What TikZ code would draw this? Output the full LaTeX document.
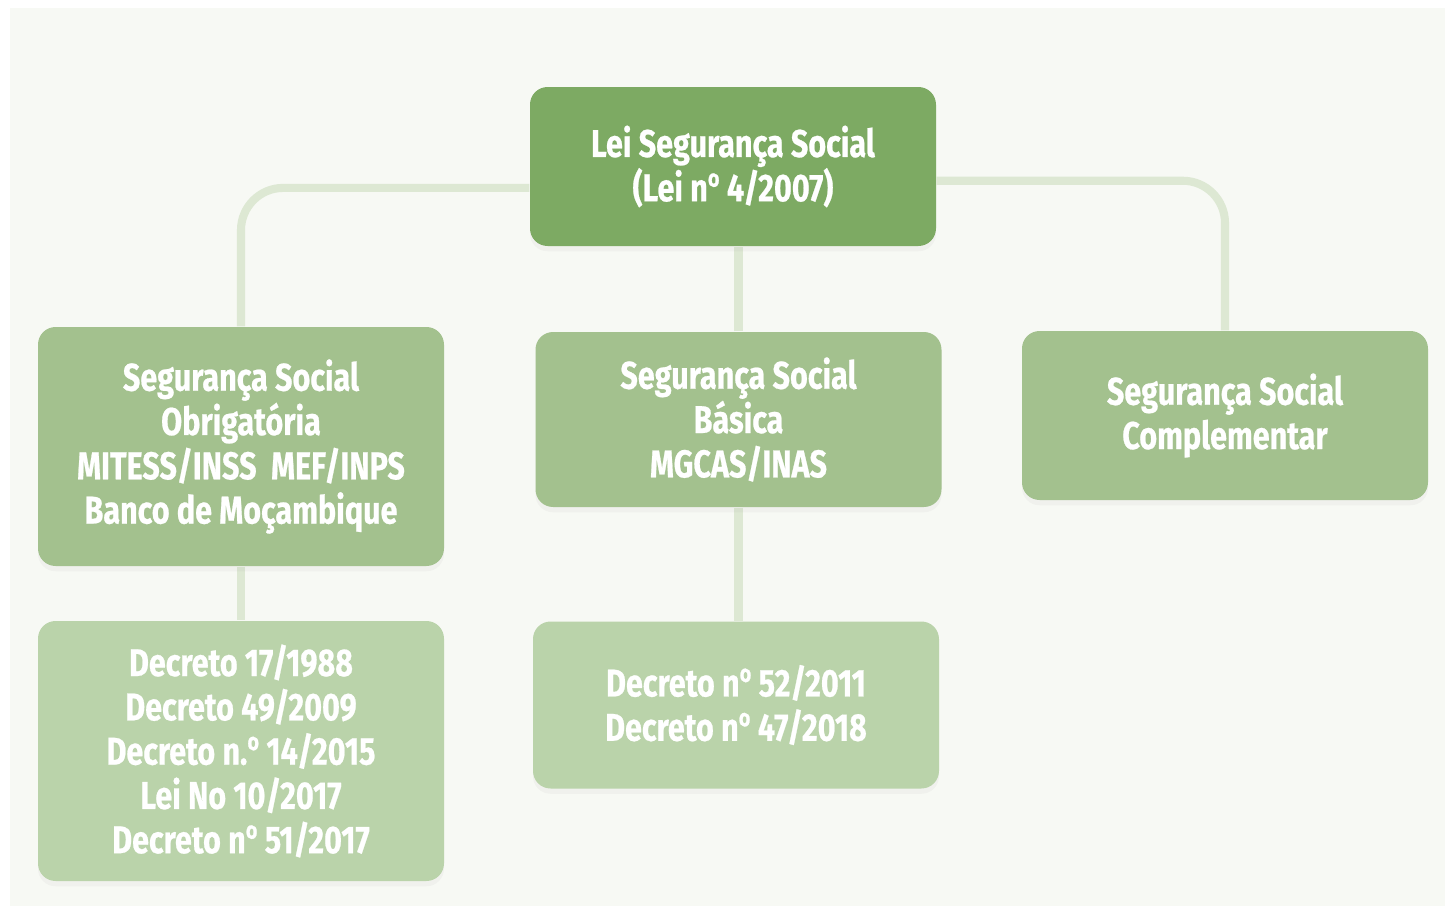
\documentclass[tikz,border=0pt]{standalone}
\usepackage{fontspec}
\setmainfont{Fira Sans}[FakeStretch=0.79, BoldFeatures={FakeBold=0.6}]
\newfontfamily\ordfont{Open Sans}[FakeStretch=0.79, BoldFeatures={FakeBold=0.6}]
\usetikzlibrary{positioning, shadows, backgrounds}

\definecolor{leigreen}{HTML}{7DAA63}
\definecolor{midgreen}{HTML}{A3C18E}
\definecolor{lowgreen}{HTML}{BAD3AA}
\definecolor{linkgreen}{HTML}{DDE8D3}
\definecolor{paper}{HTML}{F7F9F4}

\newcommand{\nordm}{n{\ordfont º}}
\newcommand{\boxfont}{\fontsize{11}{12.6}\selectfont\bfseries\lineskiplimit=-10pt\relax}

\tikzset{
  box/.style={rectangle, rounded corners=5pt, align=center, text=white,
              font=\boxfont,
              minimum width=4.06cm, inner sep=0pt,
              drop shadow={opacity=0.06, shadow xshift=0pt, shadow yshift=-1.5pt}},
  lei/.style={box, fill=leigreen},
  regime/.style={box, fill=midgreen},
  decreto/.style={box, fill=lowgreen},
  link/.style={draw=linkgreen, line width=2.3pt, rounded corners=12pt}
}

\begin{document}
\begin{tikzpicture}

   \useasboundingbox (0,0) rectangle (14.45,-9.06);

   % Nodes
      \node[lei,minimum height=1.59cm]     (lss)  at (7.33,-1.665)  {Lei Segurança Social\\(Lei \nordm{} 4/2007)};
      \node[regime,minimum height=2.39cm]  (obr)  at (2.41,-4.465)  {Segurança Social\\Obrigatória\\MITESS/INSS\ \ MEF/INPS\\Banco de Moçambique};
      \node[regime,minimum height=1.75cm]  (bas)  at (7.385,-4.195) {Segurança Social\\Básica\\MGCAS/INAS};
      \node[regime,minimum height=1.69cm]  (cmp)  at (12.25,-4.155) {Segurança Social\\Complementar};
      \node[decreto,minimum height=2.60cm] (dobr) at (2.41,-7.51)   {Decreto 17/1988\\Decreto 49/2009\\Decreto n.{\ordfont º} 14/2015\\Lei No 10/2017\\Decreto \nordm{} 51/2017};
      \node[decreto,minimum height=1.67cm] (dbas) at (7.36,-7.05)   {Decreto \nordm{} 52/2011\\Decreto \nordm{} 47/2018};

   % Paths
   \begin{scope}[on background layer]
      \fill[paper] (0.10,-0.08) rectangle (14.45,-9.06);
      \draw[link] (lss.186) -| (obr.north);
      \draw[link] (lss.356) -| (cmp.north);
      \draw[link] (bas.north) -- (bas.north |- lss.south);
      \draw[link] (obr.south) -- (dobr.north);
      \draw[link] (bas.south) -- (bas.south |- dbas.north);
   \end{scope}
\end{tikzpicture}
\end{document}
